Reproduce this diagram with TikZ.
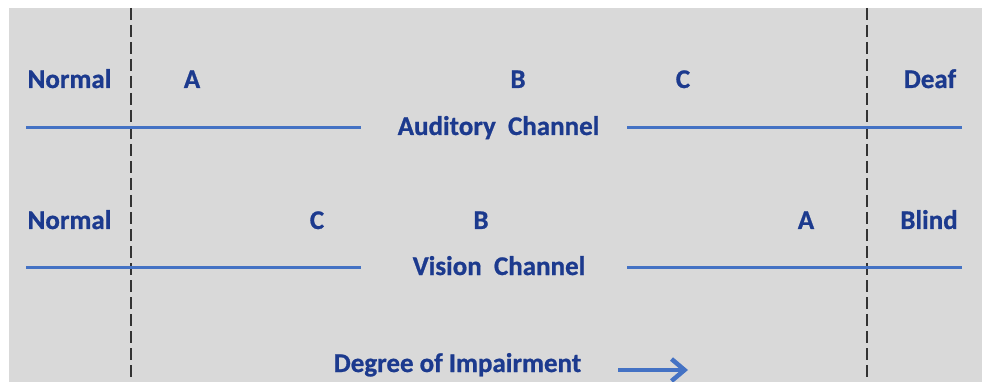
\documentclass[tikz,border=0pt]{standalone}
\usepackage{fontspec}
\setmainfont{Carlito}[BoldFeatures={FakeBold=0.8}]
\usetikzlibrary{arrows.meta}
\definecolor{bg}{HTML}{D9D9D9}
\definecolor{txt}{HTML}{1C3A8E}
\definecolor{ln}{HTML}{4472C4}
\begin{document}
\begin{tikzpicture}[x=1pt,y=-1pt,
  lbl/.style={anchor=base,text=txt,font=\bfseries\fontsize{27}{32}\selectfont,inner sep=0pt},
  chan/.style={line width=3pt,draw=ln},
  divider/.style={line width=1.5pt,draw=black!80,dash pattern=on 12pt off 5pt}]
\useasboundingbox (0,0) rectangle (982,382);
\fill[bg] (9,8) rectangle (982,382);
% dividers
\coordinate (d1t) at (131,8); \coordinate (d1b) at (131,382);
\coordinate (d2t) at (867,8); \coordinate (d2b) at (867,382);
\draw[divider] (d1t) -- (d1b);
\draw[divider] (d2t) -- (d2b);
% auditory row
\node[lbl] (n1) at (69.5,88) {Normal};
\node[lbl] (a1) at (192,88) {A};
\node[lbl] (b1) at (518,88) {B};
\node[lbl] (c1) at (683,88) {C};
\node[lbl] (deaf) at (930,88) {Deaf};
\node[lbl] (aud) at (498.5,135) {Auditory\ \ Channel};
\coordinate (a1l) at (26,128); \coordinate (a1r) at (361,128);
\coordinate (a2l) at (627,128); \coordinate (a2r) at (962,128);
\draw[chan] (a1l) -- (a1r);
\draw[chan] (a2l) -- (a2r);
% vision row
\node[lbl] (n2) at (69.5,229) {Normal};
\node[lbl] (c2) at (317,229) {C};
\node[lbl] (b2) at (481,229) {B};
\node[lbl] (a2) at (806,229) {A};
\node[lbl] (blind) at (929,229) {Blind};
\node[lbl] (vis) at (499,275) {Vision\ \ Channel};
\coordinate (v1l) at (26,267); \coordinate (v1r) at (361,267);
\coordinate (v2l) at (627,267); \coordinate (v2r) at (962,267);
\draw[chan] (v1l) -- (v1r);
\draw[chan] (v2l) -- (v2r);
% degree
\node[lbl] (deg) at (457.5,372) {Degree of Impairment};
\coordinate (arS) at (618,370); \coordinate (arE) at (688,370);
\draw[ln,line width=4.5pt,-{Straight Barb[length=13pt,width=22pt,line width=4.5pt]}] (arS) -- (arE);
\end{tikzpicture}
\end{document}
